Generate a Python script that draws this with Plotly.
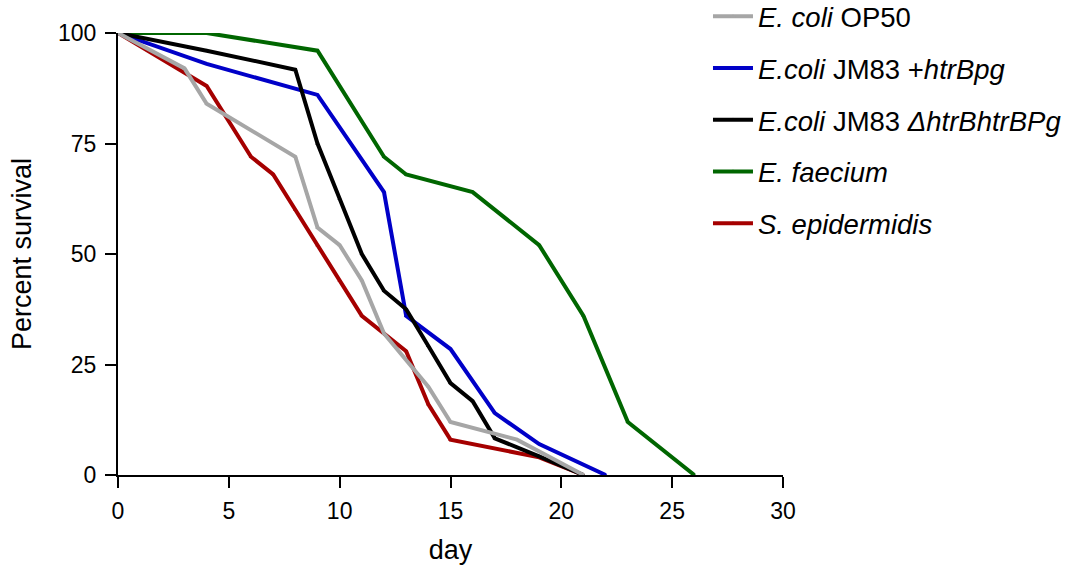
import plotly.graph_objects as go

# data
op50_day = [0, 3, 4, 8, 9, 10, 11, 12, 14, 15, 18, 21]
op50_surv = [100, 92, 84, 72, 56, 52, 44, 32, 20, 12, 8, 0]

plus_day = [0, 4, 9, 12, 13, 15, 17, 19, 22]
plus_surv = [100, 93, 86, 64, 36, 28.5, 14, 7, 0]

delta_day = [0, 4, 8, 9, 10, 11, 12, 13, 14, 15, 16, 17, 19, 21]
delta_surv = [100, 96, 91.7, 75, 62.5, 50, 41.7, 37.5, 29.2, 20.8, 16.7, 8.3, 4.2, 0]

faec_day = [0, 4, 9, 12, 13, 16, 19, 21, 23, 26]
faec_surv = [100, 100, 96, 72, 68, 64, 52, 36, 12, 0]

epi_day = [0, 4, 6, 7, 8, 9, 10, 11, 13, 14, 15, 19, 21]
epi_surv = [100, 88, 72, 68, 60, 52, 44, 36, 28, 16, 8, 4, 0]

names = [
    "<i>E. coli</i> OP50",
    "<i>E.coli</i> JM83 +<i>htrBpg</i>",
    "<i>E.coli</i> JM83 <i>ΔhtrBhtrBPg</i>",
    "<i>E. faecium</i>",
    "<i>S. epidermidis</i>",
]
colors = ["#A6A6A6", "#0000C8", "#000000", "#006600", "#A50000"]

series = [
    (op50_day, op50_surv),
    (plus_day, plus_surv),
    (delta_day, delta_surv),
    (faec_day, faec_surv),
    (epi_day, epi_surv),
]

draw_order = [3, 4, 1, 2, 0]

fig = go.Figure()
for i in draw_order:
    d, s = series[i]
    fig.add_trace(go.Scatter(
        x=d, y=s, mode="lines+markers", name=names[i],
        line=dict(color=colors[i], width=4),
        marker=dict(symbol="triangle-up", size=4, color=colors[i]),
        legendrank=i + 1, legendgroup=f"g{i}",
    ))

font = "Arial, Liberation Sans, sans-serif"
fig.update_layout(
    width=1077, height=569,
    margin=dict(l=118, r=294, t=33, b=94, autoexpand=False),
    plot_bgcolor="white", paper_bgcolor="white",
    font=dict(family=font, color="black", size=22),
    legend=dict(
        x=0.8872, y=1.0928, xanchor="left", yanchor="top",
        font=dict(size=27.5), tracegroupgap=13, bgcolor="rgba(0,0,0,0)",
        itemwidth=40,
    ),
    xaxis=dict(
        range=[0, 30], tickvals=[0, 5, 10, 15, 20, 25, 30],
        showline=True, linecolor="black", linewidth=2,
        ticks="outside", ticklen=11, tickwidth=2, tickcolor="black",
        ticklabelstandoff=3,
        showgrid=False, zeroline=False, tickfont=dict(size=23),
        title=dict(text="day", font=dict(size=27), standoff=18),
    ),
    yaxis=dict(
        range=[0, 100], tickvals=[0, 25, 50, 75, 100],
        showline=True, linecolor="black", linewidth=2,
        ticks="outside", ticklen=11, tickwidth=2, tickcolor="black",
        ticklabelstandoff=4,
        showgrid=False, zeroline=False, tickfont=dict(size=23),
        title=dict(text="Percent survival", font=dict(size=27), standoff=19),
    ),
)

fig.write_html("out.html")
